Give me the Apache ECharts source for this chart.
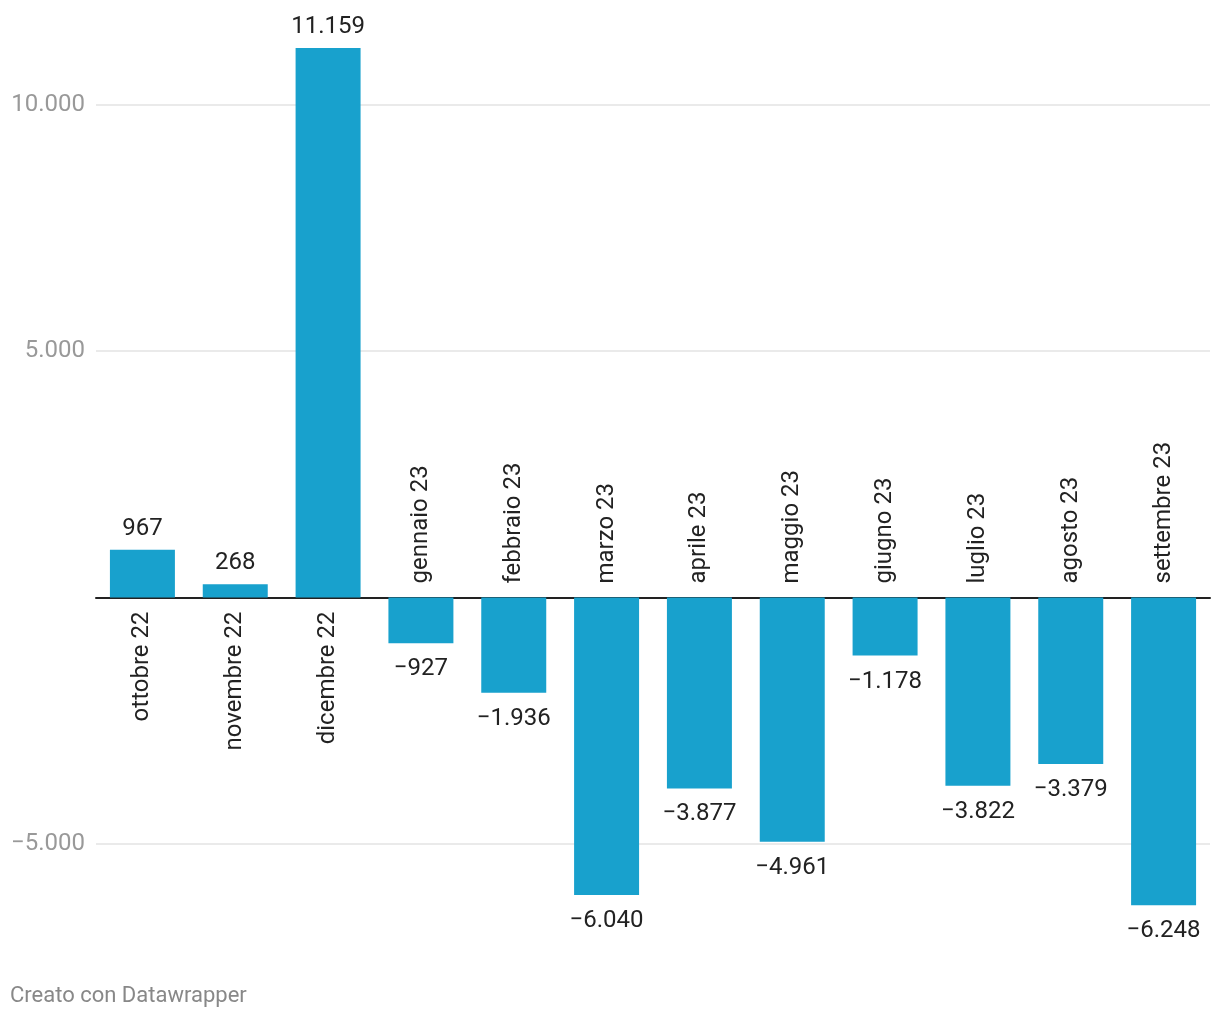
<!DOCTYPE html>
<html>
<head>
<meta charset="utf-8">
<script src="https://cdn.jsdelivr.net/npm/echarts@6/dist/echarts.min.js"></script>
<style>
  html, body { margin: 0; padding: 0; background: #fff; }
  #chart { width: 1220px; height: 1020px; }
</style>
</head>
<body>
<div id="chart"></div>
<script>
const categories = ['ottobre 22', 'novembre 22', 'dicembre 22', 'gennaio 23', 'febbraio 23', 'marzo 23', 'aprile 23', 'maggio 23', 'giugno 23', 'luglio 23', 'agosto 23', 'settembre 23'];
const values = [967, 268, 11159, -927, -1936, -6040, -3877, -4961, -1178, -3822, -3379, -6248];
const yTickLabels = [-5000, 5000, 10000];

function fmt(v) {
  const s = Math.abs(v).toString().replace(/\B(?=(\d{3})+(?!\d))/g, '.');
  return (v < 0 ? '\u2212' : '') + s;
}

const FONT = 'Roboto';
const chart = echarts.init(document.getElementById('chart'));
chart.setOption({
  animation: false,
  backgroundColor: '#ffffff',
  textStyle: { fontFamily: FONT },
  graphic: [{
    type: 'text', left: 10, top: 985,
    style: { text: 'Creato con Datawrapper', fontFamily: FONT, fontSize: 22, fill: '#888888' }
  }],
  grid: { left: 96, right: 10, top: 43.4, height: 923.5 },
  xAxis: {
    type: 'category',
    data: categories,
    axisLine: { show: true, onZero: true, lineStyle: { color: '#222222', width: 2 } },
    axisTick: { show: false },
    axisLabel: { show: false },
    splitLine: { show: false }
  },
  yAxis: {
    type: 'value',
    min: -7500, max: 11250, interval: 1250,
    axisLine: { show: false },
    axisTick: { show: false },
    axisLabel: {
      margin: 11,
      fontFamily: FONT, fontSize: 24, color: '#999999',
      formatter: function (v) { return yTickLabels.indexOf(v) >= 0 ? fmt(v) : ''; }
    },
    splitLine: {
      show: true,
      lineStyle: { color: ['rgba(0,0,0,0)', 'rgba(0,0,0,0)', '#e3e3e3', 'rgba(0,0,0,0)'], width: 1.5 }
    }
  },
  series: [{
    type: 'bar',
    barCategoryGap: '30%',
    itemStyle: { color: '#18a1cd' },
    data: values.map(v => ({
      value: v,
      label: { position: v >= 0 ? 'top' : 'bottom', distance: v >= 0 ? 9 : 14 }
    })),
    label: {
      show: true,
      fontFamily: FONT, fontSize: 24, color: '#222222',
      formatter: p => fmt(p.value)
    },
    z: 2
  }, {
    type: 'bar',
    barCategoryGap: '30%',
    barGap: '-100%',
    silent: true,
    itemStyle: { color: 'rgba(0,0,0,0)' },
    data: values.map(v => ({
      value: v,
      label: { position: v >= 0 ? 'bottom' : 'top', align: v >= 0 ? 'right' : 'left' }
    })),
    label: {
      show: true, distance: 14, rotate: 90, verticalAlign: 'middle',
      fontFamily: FONT, fontSize: 24, color: '#222222',
      formatter: p => p.name
    },
    z: 3
  }]
});
</script>
</body>
</html>
